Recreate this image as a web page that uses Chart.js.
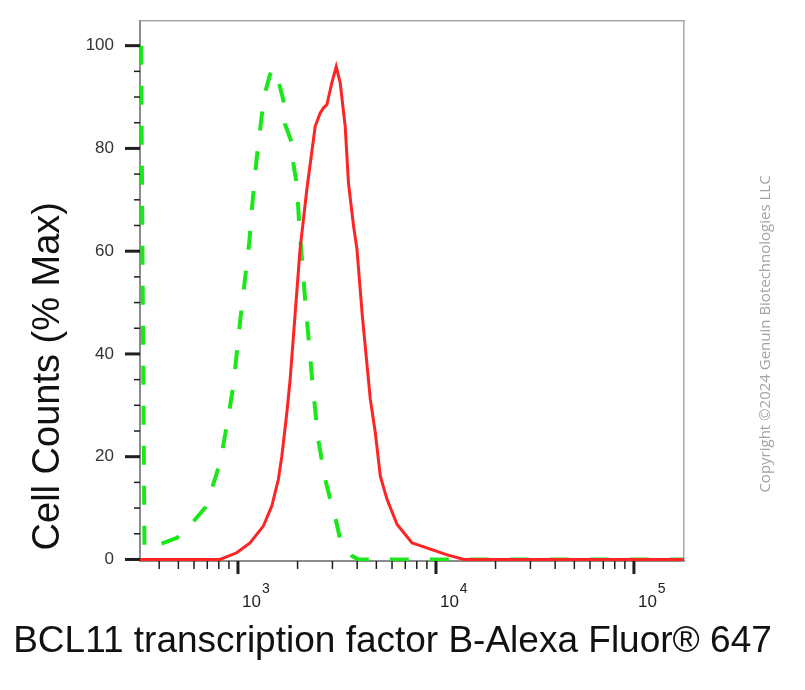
<!DOCTYPE html>
<html>
<head>
<meta charset="utf-8">
<script src="https://cdn.jsdelivr.net/npm/chart.js@4.4.1/dist/chart.umd.min.js"></script>
<style>
html,body{margin:0;padding:0;background:#fff;}
#wrap{width:805px;height:690px;position:relative;}
canvas{display:block;}
</style>
</head>
<body>
<div id="wrap"><canvas id="c" width="805" height="690"></canvas></div>
<script>
// ---- data ----
const redX = [320, 811, 985, 1150, 1343, 1482, 1600, 1665, 1765, 1834, 2059, 2227, 2455, 2603, 2704, 2812, 2981, 3135, 3283, 3480, 3614, 3835, 3990, 4245, 4660, 4938, 5236, 5660, 6364, 7577, 8176, 9374, 11400, 13840, 179000];
const redY = [0, 0, 1.3, 3.2, 6.5, 10.4, 15.6, 20.1, 28.5, 35, 60.4, 72, 84.3, 86.9, 87.9, 88.5, 92.8, 95.9, 92.8, 84.3, 73.3, 64.9, 60.4, 47.5, 31.2, 24.7, 16.2, 11.7, 6.8, 3.2, 2.8, 2.0, 0.9, 0, 0];

const greenX = [324, 337, 363, 405, 492, 569, 681, 736, 811, 877, 947, 1023, 1141, 1187, 1244, 1282, 1318, 1370, 1452, 1521, 1600, 1696, 1729, 1870, 1906, 1983, 2042, 2184, 2370, 2543, 2760, 2924, 3040, 3283, 3763, 4055, 179000];
const greenY = [100, 2.5, 2.0, 3.0, 4.2, 6.5, 10, 13.6, 18.8, 25.9, 33.7, 46, 61.8, 70, 78.2, 82.4, 86.3, 90.8, 94.4, 95.5, 93.2, 89.3, 84.7, 81.1, 77, 73, 64.8, 50.6, 35, 23.3, 15.5, 11.7, 9.7, 3.9, 0.7, 0, 0];

const yTickValues = [0, 20, 40, 60, 80, 100];
const xDecades = [1000, 10000, 100000];
const xDecadeExp = ['3', '4', '5'];
const xTitle = 'BCL11 transcription factor B-Alexa Fluor\u00AE 647';
const yTitle = 'Cell Counts (% Max)';
const copyright = 'Copyright \u00A92024 Genuin Biotechnologies LLC';

const FONT = '"Liberation Sans", Arial, Helvetica, sans-serif';

// ---- decorations drawn with the library's scales ----
const axisDecor = {
  id: 'axisDecor',
  afterDraw(chart) {
    const ctx = chart.ctx;
    const a = chart.chartArea;
    const x = chart.scales.x, y = chart.scales.y;
    ctx.save();
    ctx.strokeStyle = '#1e1e1e';
    ctx.lineCap = 'butt';
    // y tick marks (major every 20, minor every 5)
    for (let v = 0; v <= 100; v += 5) {
      const py = y.getPixelForValue(v);
      const major = v % 20 === 0;
      ctx.lineWidth = major ? 3 : 1.5;
      ctx.beginPath();
      ctx.moveTo(a.left - (major ? 15 : 6), py);
      ctx.lineTo(a.left, py);
      ctx.stroke();
    }
    // x tick marks (log decades major, 2..9 minor)
    const e0 = Math.floor(Math.log10(x.min)), e1 = Math.ceil(Math.log10(x.max));
    for (let e = e0; e <= e1; e++) {
      for (let k = 1; k <= 9; k++) {
        const v = k * Math.pow(10, e);
        if (v < x.min || v > x.max) continue;
        const px = x.getPixelForValue(v);
        const major = k === 1;
        ctx.lineWidth = major ? 3 : 1.5;
        ctx.beginPath();
        ctx.moveTo(px, a.bottom);
        ctx.lineTo(px, a.bottom + (major ? 13 : 8));
        ctx.stroke();
      }
    }
    // x decade labels 10^n
    ctx.fillStyle = '#222';
    ctx.textAlign = 'left';
    ctx.textBaseline = 'alphabetic';
    xDecades.forEach((v, i) => {
      const px = x.getPixelForValue(v) + 4;
      ctx.font = '17px ' + FONT;
      ctx.fillText('10', px, a.bottom + 46);
      const w = ctx.measureText('10').width;
      ctx.font = '14px ' + FONT;
      ctx.fillText(xDecadeExp[i], px + w + 1, a.bottom + 32);
    });
    // copyright
    ctx.translate(766, 334);
    ctx.rotate(-Math.PI / 2);
    ctx.font = '15px "Open Sans", "DejaVu Sans", sans-serif';
    ctx.fillStyle = '#a3a3a3';
    ctx.textAlign = 'center';
    ctx.textBaseline = 'middle';
    ctx.fillText(copyright, 0, 0);
    ctx.restore();
  }
};

new Chart(document.getElementById('c'), {
  type: 'scatter',
  data: {
    datasets: [
      {
        label: 'BCL11B',
        data: redX.map((v, i) => ({x: v, y: redY[i]})),
        showLine: true,
        borderColor: '#ff2424',
        borderWidth: 3,
        pointRadius: 0,
        tension: 0,
        fill: false
      },
      {
        label: 'Control',
        data: greenX.map((v, i) => ({x: v, y: greenY[i]})),
        showLine: true,
        borderColor: '#1be81b',
        borderWidth: 4,
        borderDash: [19, 21],
        pointRadius: 0,
        tension: 0,
        fill: false
      }
    ]
  },
  options: {
    responsive: false,
    animation: false,
    devicePixelRatio: 1,
    layout: { padding: { left: 0, right: 20, top: 0, bottom: 0 } },
    plugins: {
      legend: { display: false },
      tooltip: { enabled: false },
      title: {
        display: true,
        position: 'bottom',
        text: xTitle,
        color: '#111',
        font: { family: FONT, size: 37, weight: 'normal' },
        padding: { top: 0, bottom: 25.8 }
      }
    },
    scales: {
      x: {
        type: 'logarithmic',
        position: 'bottom',
        min: 320,
        max: 179000,
        afterFit: s => { s.height = 58.8; },
        grid: { display: false },
        border: { display: true, color: '#8c8c8c', width: 2 },
        ticks: { display: false }
      },
      xTop: {
        type: 'linear',
        position: 'top',
        afterFit: s => { s.height = 21; },
        grid: { display: false },
        border: { display: true, color: '#a8a8a8', width: 1.5 },
        ticks: { display: false }
      },
      y: {
        type: 'linear',
        position: 'left',
        min: -0.3,
        max: 104.8,
        afterFit: s => { s.width = 140; },
        grid: { display: true, drawOnChartArea: false, drawTicks: true, tickLength: 26, tickColor: 'rgba(0,0,0,0)' },
        border: { display: true, color: '#8c8c8c', width: 2 },
        ticks: {
          stepSize: 20,
          includeBounds: false,
          autoSkip: false,
          padding: 0,
          color: '#333',
          font: { family: FONT, size: 17 },
          callback: v => yTickValues.includes(v) ? String(v) : ''
        },
        title: {
          display: true,
          text: ' ' + yTitle,
          align: 'start',
          color: '#111',
          font: { family: FONT, size: 38, weight: 'normal' },
          padding: { top: 26, bottom: 0 }
        }
      },
      yRight: {
        type: 'linear',
        position: 'right',
        afterFit: s => { s.width = 101; },
        grid: { display: false },
        border: { display: true, color: '#a8a8a8', width: 1.5 },
        ticks: { display: false }
      }
    }
  },
  plugins: [axisDecor]
});
</script>
</body>
</html>
